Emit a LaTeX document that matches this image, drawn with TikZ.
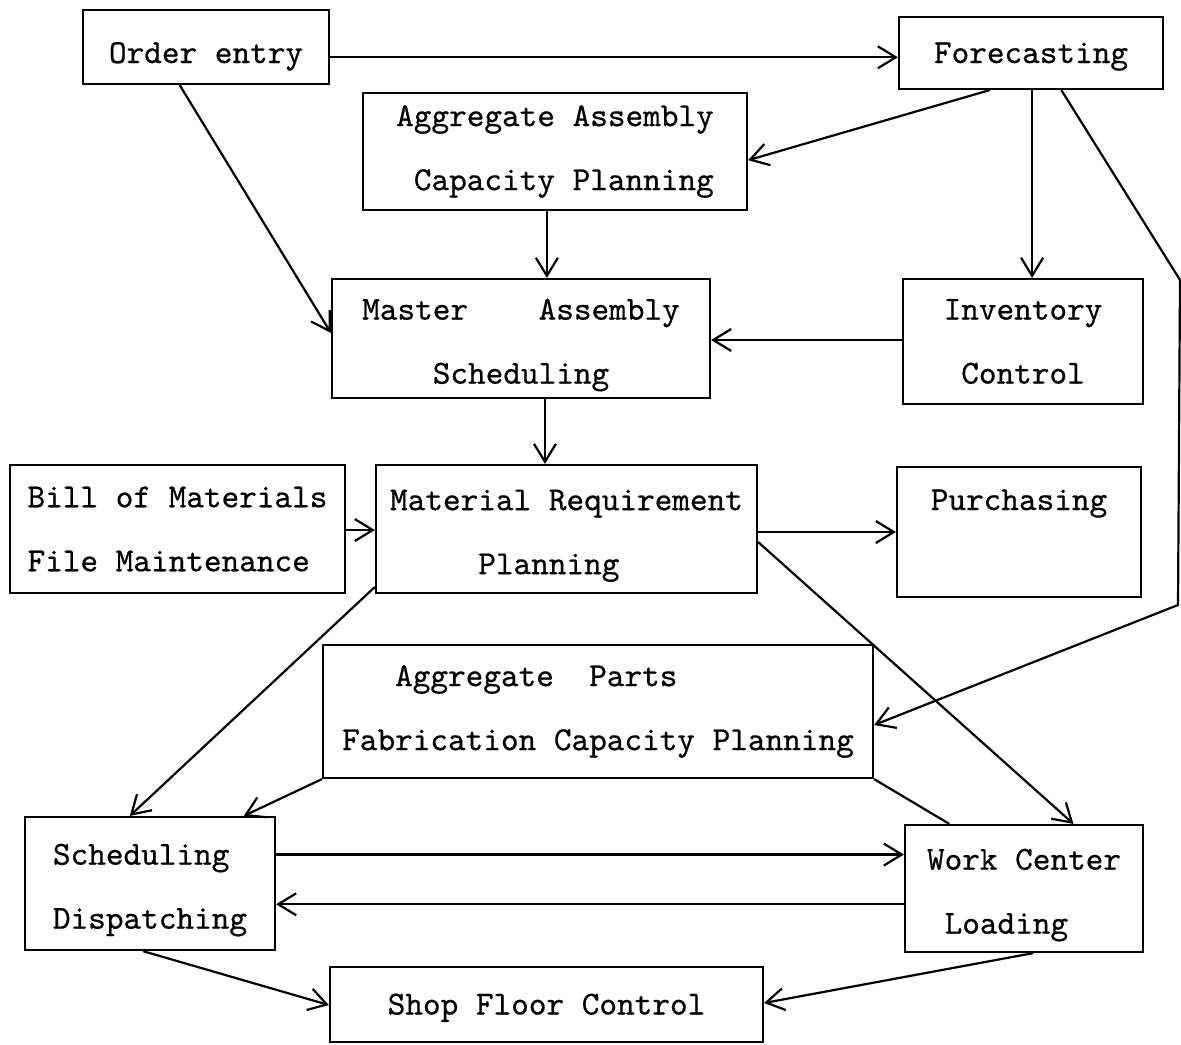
\documentclass[tikz,border=0pt]{standalone}
\usepackage{fontspec}
\newfontfamily\twfont{lmmono10-regular.otf}[FakeBold=0.6]
\usetikzlibrary{arrows.meta,calc}
\newcommand{\lo}{\rule{0pt}{17pt}}
\begin{document}
\begin{tikzpicture}[x=0.5pt,y=-0.5pt,
  box/.style={draw, line width=1.1pt, inner sep=0pt, align=left,
    font=\twfont\fontsize{16.8}{32}\selectfont},
  con/.style={line width=1.1pt},
  arr/.style={con, -{Straight Barb[length=9pt,width=11pt]}}]
\fill[white] (0,0) rectangle (1181,1044);
\useasboundingbox (0,0) rectangle (1181,1044);
% boxes
\node[box, minimum width=123pt, minimum height=37pt, text height=16pt, text depth=0pt] (order) at (206,47) {Order entry};
\node[box, minimum width=132pt, minimum height=36pt, text height=10pt, text depth=0pt] (fore) at (1031,53) {Forecasting};
\node[box, minimum width=192pt, minimum height=58.5pt] (aac) at (555,151.5) {Aggregate Assembly\\\phantom{x}Capacity Planning};
\node[box, minimum width=189pt, minimum height=59.5pt] (mas) at (521,338.5) {\lo Master\phantom{xxxx}Assembly\\\phantom{xxxx}Scheduling};
\node[box, minimum width=120pt, minimum height=62.5pt] (inv) at (1023,341.5) {Inventory\\\phantom{x}Control};
\node[box, minimum width=167.5pt, minimum height=64pt] (bom) at (177.5,529) {Bill of Materials\\File Maintenance};
\node[box, minimum width=190.5pt, minimum height=64pt] (mrp) at (566.5,529) {\lo Material Requirement\\\phantom{xxxxx}Planning};
\node[box, minimum width=122pt, minimum height=65pt, text height=0pt, text depth=22pt] (pur) at (1019,532) {Purchasing};
\node[box, minimum width=275pt, minimum height=66.5pt] (apf) at (598,711.5) {\phantom{xxx}Aggregate\phantom{xx}Parts\\Fabrication Capacity Planning};
\node[box, minimum width=125pt, minimum height=66.5pt] (sd) at (150,883.5) {\lo Scheduling\\Dispatching};
\node[box, minimum width=119pt, minimum height=63.5pt] (wcl) at (1024,888.5) {\lo Work Center\\\phantom{x}Loading};
\node[box, minimum width=216.5pt, minimum height=37.5pt, text height=10pt, text depth=0pt] (sfc) at (546.5,1004.5) {Shop Floor Control};
% connectors
\coordinate (o1) at ($(order.north east)!0.635!(order.south east)$);
\draw[arr] (o1) -- (o1 -| fore.west);
\draw[arr] ($(order.south west)!0.394!(order.south east)$) -- ($(mas.north west)!0.454!(mas.south west)$);
\draw[arr] ($(fore.south west)!0.345!(fore.south east)$) -- ($(aac.north east)!0.573!(aac.south east)$);
\coordinate (f2) at ($(fore.south west)!0.504!(fore.south east)$);
\draw[arr] (f2) -- (f2 |- inv.north);
\coordinate (k1) at (1180,280);
\coordinate (k2) at (1178,605);
\draw[arr] ($(fore.south west)!0.614!(fore.south east)$) -- (k1) -- (k2) -- ($(apf.north east)!0.60!(apf.south east)$);
\coordinate (a1) at ($(aac.south west)!0.479!(aac.south east)$);
\draw[arr] (a1) -- (a1 |- mas.north);
\coordinate (i1) at ($(inv.north west)!0.488!(inv.south west)$);
\draw[arr] (i1) -- (i1 -| mas.east);
\coordinate (m1) at ($(mas.south west)!0.563!(mas.south east)$);
\draw[arr] (m1) -- (m1 |- mrp.north);
\coordinate (b1) at ($(bom.north east)!0.508!(bom.south east)$);
\draw[arr] (b1) -- (b1 -| mrp.west);
\coordinate (r1) at ($(mrp.north east)!0.523!(mrp.south east)$);
\draw[arr] (r1) -- (r1 -| pur.west);
\draw[arr] ($(mrp.north west)!0.945!(mrp.south west)$) -- ($(sd.north west)!0.42!(sd.north east)$);
\draw[arr] ($(mrp.north east)!0.60!(mrp.south east)$) -- ($(wcl.north west)!0.706!(wcl.north east)$);
\draw[arr] (apf.south west) -- ($(sd.north west)!0.872!(sd.north east)$);
\draw[con] (apf.south east) -- ($(wcl.north west)!0.189!(wcl.north east)$);
\coordinate (s1) at ($(sd.north east)!0.286!(sd.south east)$);
\draw[arr] (s1) -- (s1 -| wcl.west);
\coordinate (w1) at ($(wcl.north west)!0.622!(wcl.south west)$);
\draw[arr] (w1) -- (w1 -| sd.east);
\draw[arr] ($(sd.south west)!0.472!(sd.south east)$) -- ($(sfc.north west)!0.507!(sfc.south west)$);
\draw[arr] ($(wcl.south west)!0.538!(wcl.south east)$) -- ($(sfc.north east)!0.48!(sfc.south east)$);
\end{tikzpicture}
\end{document}
